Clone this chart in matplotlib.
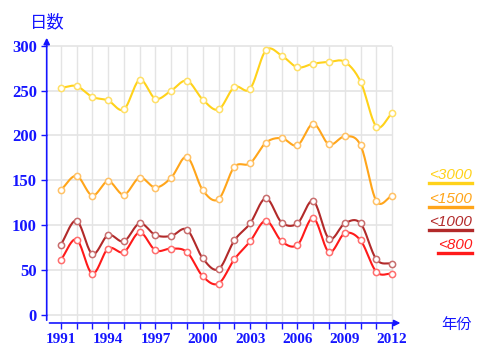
import numpy as np
import matplotlib
matplotlib.use('Agg')
import matplotlib.pyplot as plt

# datos
years = list(range(1991, 2013))
lt3000 = [253, 255, 243, 239, 229, 262, 241, 250, 261, 240, 229,
          254, 252, 295, 289, 276, 280, 282, 282, 260, 210, 225]
lt1500 = [139, 155, 133, 149, 134, 153, 142, 153, 176, 139, 129,
          165, 169, 192, 197, 189, 213, 190, 199, 189, 127, 133]
lt1000 = [78, 105, 68, 89, 82, 102, 89, 88, 95, 63, 51,
          83, 102, 130, 103, 102, 127, 85, 102, 102, 62, 57]
lt800 = [61, 84, 46, 74, 70, 92, 72, 74, 70, 43, 35,
         62, 82, 105, 82, 78, 108, 70, 91, 83, 48, 46]

series_names = ['<3000', '<1500', '<1000', '<800']
line_colors = ['#FFD21A', '#FFA51A', '#B22A2A', '#FF1A1A']
edge_colors = ['#FFE066', '#FFC266', '#C86E6E', '#FF6E6E']

blue = '#1515FF'


# curva suave tipo Catmull-Rom para dibujar
def smooth(x, y, n=20):
    x = np.asarray(x, float)
    y = np.asarray(y, float)
    px = np.concatenate([[2 * x[0] - x[1]], x, [2 * x[-1] - x[-2]]])
    py = np.concatenate([[2 * y[0] - y[1]], y, [2 * y[-1] - y[-2]]])
    xs, ys = [], []
    t = np.linspace(0, 1, n, endpoint=False)
    for i in range(1, len(px) - 2):
        for p, out in ((px, xs), (py, ys)):
            p0, p1, p2, p3 = p[i - 1], p[i], p[i + 1], p[i + 2]
            out.extend(0.5 * (2 * p1 + (-p0 + p2) * t
                              + (2 * p0 - 5 * p1 + 4 * p2 - p3) * t ** 2
                              + (-p0 + 3 * p1 - 3 * p2 + p3) * t ** 3))
    xs.append(x[-1])
    ys.append(y[-1])
    return np.array(xs), np.array(ys)


fig = plt.figure(figsize=(4.8, 3.51), dpi=100)
ax = fig.add_axes([0.0973, 0.0798, 0.7427, 0.8205])
x0, x1 = 1990.11, 2012.7
y0, y1 = -9, 312
ax.set_xlim(x0, x1)
ax.set_ylim(y0, y1)
for s in ax.spines.values():
    s.set_visible(False)

# rejilla
yticks = list(range(0, 301, 50))
ax.hlines(yticks, x0, years[-1], color='#e4e4e4', lw=1.2, zorder=0)
ax.vlines(years, y0, 300, color='#e4e4e4', lw=1.0, zorder=0)

# ejes con flecha
ax.annotate('', xy=(x1, y0), xytext=(x0, y0),
            arrowprops=dict(arrowstyle='-|>', color=blue, lw=1.2, mutation_scale=9),
            annotation_clip=False)
ax.annotate('', xy=(x0, y1), xytext=(x0, y0),
            arrowprops=dict(arrowstyle='-|>', color=blue, lw=1.2, mutation_scale=9),
            annotation_clip=False)

ax.set_yticks(yticks)
ax.set_xticks(years)
ax.set_xticklabels([str(y) if (y - 1991) % 3 == 0 else '' for y in years])
ax.tick_params(axis='both', colors=blue, length=4, width=1.0, pad=3)
for lab in ax.get_yticklabels():
    lab.set_fontsize(12)
for lab in ax.get_xticklabels():
    lab.set_fontsize(11)
for lab in ax.get_xticklabels() + ax.get_yticklabels():
    lab.set_fontfamily('Liberation Serif')
    lab.set_fontweight('bold')
    lab.set_color(blue)

data = [lt3000, lt1500, lt1000, lt800]
for vals, lc, ec in zip(data, line_colors, edge_colors):
    sx, sy = smooth(years, vals)
    ax.plot(sx, sy, color=lc, lw=1.5, zorder=3)
    ax.plot(years, vals, 'o', ms=4.5, mfc='white', mec=ec, mew=1.1, zorder=4)

cjk = ['Noto Sans CJK JP', 'DejaVu Sans']
fig.text(47 / 480, 1 - 22 / 351, '日数', color=blue, fontsize=12.5,
         family=cjk, ha='center', va='center')
fig.text(457 / 480, 1 - 325 / 351, '年份', color=blue, fontsize=11,
         family=cjk, ha='center', va='center')

# leyenda con subrayado
fig.canvas.draw()
renderer = fig.canvas.get_renderer()
base_y = [179, 203, 226, 249]
for name, lc, by in zip(series_names, line_colors, base_y):
    t = fig.text(472 / 480, 1 - by / 351, name, color=lc, fontsize=11,
                 family='Liberation Sans', style='italic',
                 ha='right', va='baseline')
    bb = t.get_window_extent(renderer)
    uy = 1 - (by + 3.5) / 351
    fig.add_artist(plt.Line2D([bb.x0 / 480, bb.x1 / 480], [uy, uy],
                              color=lc, lw=2.4, transform=fig.transFigure))

fig.savefig('out.png', dpi=100)
